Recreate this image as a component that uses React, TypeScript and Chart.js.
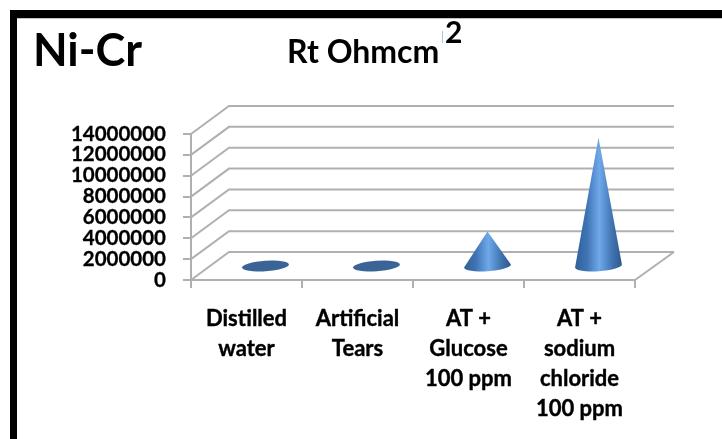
import React, { useEffect, useRef } from "react";
import { Chart, registerables } from "chart.js";

Chart.register(...registerables);

const categories: string[][] = [
  ["Distilled", "water"],
  ["Artificial", "Tears"],
  ["AT +", "Glucose", "100 ppm"],
  ["AT +", "sodium", "chloride", "100 ppm"],
];
const rtValues: number[] = [40000, 40000, 3300000, 12300000];
const chartLabel = "Ni-Cr";
const unitLabel = "Rt Ohmcm";
const unitExponent = "2";

const FONT = "Lato, Carlito, sans-serif";
const DEPTH_X = 38;
const DEPTH_Y = 28;
const GRID = "#b0b0b0";

const scene = {
  id: "scene3d",
  beforeDatasetsDraw(chart: any) {
    const { ctx, scales } = chart;
    const x = scales.x;
    const y = scales.y;
    ctx.save();

    // page frame
    ctx.fillStyle = "#000";
    ctx.fillRect(10, 10, 712, 8);
    ctx.fillRect(10, 10, 7, 429);
    ctx.fillStyle = "#c4c4c4";
    ctx.fillRect(17, 18, 705, 1);

    // texts
    ctx.fillStyle = "#000";
    ctx.textBaseline = "alphabetic";
    ctx.textAlign = "left";
    ctx.font = `bold 45px ${FONT}`;
    ctx.fillText(chartLabel, 33, 66);
    ctx.font = `bold 32px ${FONT}`;
    ctx.fillText(unitLabel, 287, 63);
    ctx.font = `bold 30px ${FONT}`;
    ctx.fillText(unitExponent, 445, 43);
    ctx.fillStyle = "#9cc8ea";
    ctx.fillRect(442, 31, 1, 12);

    // walls: perspective grid lines
    ctx.strokeStyle = GRID;
    ctx.lineWidth = 2;
    for (const t of y.ticks) {
      const py = y.getPixelForValue(t.value);
      ctx.beginPath();
      ctx.moveTo(x.left, py);
      ctx.lineTo(x.left + DEPTH_X, py - DEPTH_Y);
      ctx.lineTo(x.right + DEPTH_X + 1, py - DEPTH_Y);
      ctx.stroke();
    }
    // floor right edge
    const zero = y.getPixelForValue(0);
    ctx.beginPath();
    ctx.moveTo(x.right, zero);
    ctx.lineTo(x.right + DEPTH_X + 1, zero - DEPTH_Y);
    ctx.stroke();
    ctx.restore();
  },
  afterDatasetsDraw(chart: any) {
    const { ctx, scales } = chart;
    const x = scales.x;
    const y = scales.y;
    const rx = 23.5;
    const ry = 5.2;
    const tilt = (-3.8 * Math.PI) / 180;
    rtValues.forEach((v, i) => {
      const cx = x.getPixelForValue(i) + DEPTH_X / 2;
      const cy = y.getPixelForValue(0) - DEPTH_Y / 2;
      const tipY = y.getPixelForValue(v) - DEPTH_Y / 2;
      ctx.save();
      ctx.translate(cx, cy);
      if (cy - tipY < 10) {
        ctx.fillStyle = "#3a6496";
        ctx.beginPath();
        ctx.ellipse(0, 0, rx, ry, tilt, 0, Math.PI * 2);
        ctx.fill();
      } else {
        const g = ctx.createLinearGradient(-rx, 0, rx, 0);
        g.addColorStop(0, "#2f5f98");
        g.addColorStop(0.25, "#3f74b4");
        g.addColorStop(0.52, "#6fa8ea");
        g.addColorStop(0.8, "#3f72ae");
        g.addColorStop(1, "#2d5a90");
        ctx.fillStyle = g;
        ctx.beginPath();
        ctx.moveTo(0, tipY - cy);
        const ca = Math.cos(tilt);
        const sa = Math.sin(tilt);
        ctx.lineTo(rx * ca, rx * sa);
        ctx.ellipse(0, 0, rx, ry, tilt, 0, Math.PI);
        ctx.closePath();
        ctx.fill();
      }
      ctx.restore();
    });
  },
};

export default function App() {
  const ref = useRef<HTMLCanvasElement>(null);
  useEffect(() => {
    document.body.style.margin = "0";
    document.body.style.background = "#fff";
    const chart = new Chart(ref.current!, {
      type: "bar",
      data: {
        labels: categories as any,
        datasets: [
          { label: unitLabel, data: rtValues, backgroundColor: "rgba(0,0,0,0)", borderWidth: 0 },
        ],
      },
      plugins: [scene],
      options: {
        responsive: false,
        animation: false,
        layout: { padding: { left: 0, right: 87, top: 134, bottom: 0 } },
        plugins: { legend: { display: false }, title: { display: false }, tooltip: { enabled: false } },
        scales: {
          x: {
            afterFit: (s: any) => { s.height = 159; },
            grid: { drawOnChartArea: false, drawTicks: true, tickLength: 8, color: GRID, lineWidth: 2 },
            border: { color: GRID, width: 2 },
            ticks: {
              color: "#000",
              autoSkip: false,
              maxRotation: 0,
              minRotation: 0,
              padding: 16,
              textStrokeColor: "#000",
              textStrokeWidth: 0.4,
              font: { family: FONT, weight: "bold", size: 22, lineHeight: 1.36 },
            },
          },
          y: {
            min: 0,
            max: 14000000,
            afterFit: (s: any) => { s.width = 191; },
            grid: { drawOnChartArea: false, drawTicks: true, tickLength: 8, color: GRID, lineWidth: 2 },
            border: { color: GRID, width: 2 },
            ticks: {
              stepSize: 2000000,
              autoSkip: false,
              color: "#000",
              padding: 17,
              textStrokeColor: "#000",
              textStrokeWidth: 0.3,
              font: { family: FONT, weight: "bold", size: 20.5 },
              callback: (v: any) => String(v),
            },
          },
        },
      } as any,
    });
    return () => chart.destroy();
  }, []);
  return (
    <canvas
      ref={ref}
      width={722}
      height={439}
      style={{ display: "block", width: 722, height: 439 }}
    />
  );
}
